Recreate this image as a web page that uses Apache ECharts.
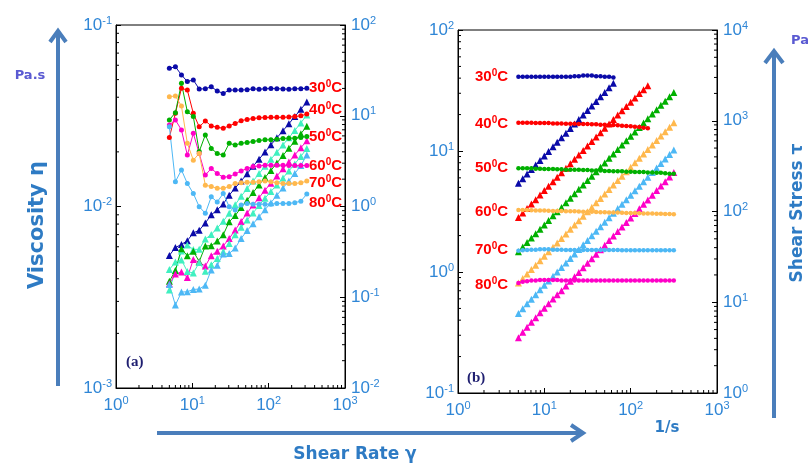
<!DOCTYPE html>
<html><head><meta charset="utf-8">
<script src="https://cdn.jsdelivr.net/npm/echarts@6/dist/echarts.min.js"></script>
<style>html,body{margin:0;padding:0;background:#fff}#c{width:811px;height:464px}</style>
</head><body><div id="c"></div>
<script>
// ---------- data ----------
const temps = ['30', '40', '50', '60', '70', '80'];

// Panel (a): shear rate (1/s)
const rateA = [5,6,7.2,8.6,10.3,12.3,14.8,17.7,21.2,25.4,30.4,36.4,43.6,52.2,62.5,74.8,89.6,107,128,154,184,220,264,316];
// Panel (a): viscosity (Pa.s), left axis
const etaA30 = [0.0577,0.0589,0.0531,0.0488,0.0498,0.0444,0.0445,0.0457,0.0433,0.042,0.0438,0.0438,0.0438,0.044,0.0445,0.0443,0.0445,0.0447,0.0446,0.0444,0.0443,0.0445,0.0446,0.0448];
const etaA40 = [0.024,0.0326,0.0448,0.0438,0.0326,0.0275,0.0296,0.0278,0.0273,0.027,0.0278,0.0287,0.0297,0.0302,0.0305,0.0308,0.0309,0.031,0.031,0.031,0.0311,0.0313,0.0316,0.0323];
const etaA50 = [0.03,0.0329,0.0477,0.0333,0.0313,0.0201,0.0248,0.0209,0.0196,0.0192,0.0223,0.0218,0.0223,0.0225,0.0228,0.0231,0.0233,0.0233,0.0235,0.0237,0.0238,0.0238,0.024,0.0243];
const etaA60 = [0.0281,0.03,0.0264,0.0192,0.0253,0.0196,0.0149,0.0162,0.0152,0.0145,0.0146,0.0151,0.0157,0.0162,0.0166,0.0167,0.0169,0.0169,0.0169,0.0169,0.0168,0.0168,0.0168,0.0168];
const etaA70 = [0.0403,0.0406,0.0358,0.0223,0.018,0.0196,0.0131,0.0129,0.0126,0.0126,0.0129,0.0134,0.0135,0.0136,0.0136,0.0137,0.0138,0.0137,0.0135,0.0134,0.0134,0.0134,0.0135,0.0138];
const etaA80 = [0.0275,0.0137,0.0159,0.0134,0.0118,0.00998,0.00917,0.0113,0.0106,0.0118,0.00998,0.00957,0.0102,0.0104,0.0103,0.0103,0.0103,0.0103,0.0104,0.0104,0.0104,0.0105,0.0107,0.0117];
// Panel (a): shear stress (Pa), right axis
const tauA30 = [0.289,0.353,0.382,0.42,0.513,0.546,0.659,0.809,0.918,1.067,1.332,1.594,1.91,2.297,2.781,3.314,3.987,4.783,5.709,6.838,8.151,9.79,11.77,14.16];
const tauA40 = [0.12,0.196,0.323,0.377,0.336,0.338,0.438,0.492,0.579,0.686,0.845,1.045,1.295,1.576,1.906,2.304,2.769,3.317,3.968,4.774,5.722,6.886,8.342,10.21];
const tauA50 = [0.15,0.197,0.343,0.286,0.322,0.247,0.367,0.37,0.416,0.488,0.678,0.794,0.972,1.175,1.425,1.728,2.088,2.493,3.008,3.65,4.379,5.236,6.336,7.679];
const tauA60 = [0.141,0.18,0.19,0.165,0.261,0.241,0.221,0.287,0.322,0.368,0.444,0.55,0.685,0.846,1.038,1.249,1.514,1.808,2.163,2.603,3.091,3.696,4.435,5.309];
const tauA70 = [0.202,0.244,0.258,0.192,0.185,0.241,0.194,0.228,0.267,0.32,0.392,0.488,0.589,0.71,0.85,1.025,1.236,1.466,1.728,2.064,2.466,2.948,3.564,4.361];
const tauA80 = [0.138,0.082,0.114,0.115,0.122,0.123,0.136,0.2,0.225,0.3,0.303,0.348,0.445,0.543,0.644,0.77,0.923,1.102,1.331,1.602,1.914,2.31,2.825,3.697];

// Panel (b): shear rate (1/s)
const rateB = [5.01,5.62,6.31,7.08,7.94,8.91,10,11.2,12.6,14.1,15.8,17.8,20,22.4,25.1,28.2,31.6,35.5,39.8,44.7,50.1,56.2,63.1,70.8,79.4,89.1,100,112,126,141,158,178,200,224,251,282,316];
// Panel (b): viscosity, left axis
const visB30 = [41,41,41,41,41,41,41,41,41,41,41,41,41,41.5,41.5,42,42,42,41.5,41.5,41,41,40.5];
const visB40 = [17.1,17.1,17.1,17.1,17.0,17.0,17.0,17.0,16.9,16.9,16.9,16.8,16.8,16.8,16.7,16.7,16.7,16.6,16.6,16.5,16.5,16.4,16.4,16.3,16.2,16.1,16.0,15.9,15.8,15.6,15.4];
const visB50 = [7.2,7.2,7.2,7.2,7.15,7.15,7.1,7.1,7.1,7.05,7.05,7.0,7.0,7.0,7.0,6.95,6.95,6.9,6.9,6.9,6.85,6.85,6.8,6.8,6.8,6.75,6.75,6.7,6.7,6.7,6.65,6.65,6.6,6.6,6.55,6.5,6.5];
const visB60 = [3.25,3.25,3.25,3.24,3.23,3.22,3.22,3.21,3.2,3.2,3.19,3.18,3.18,3.17,3.16,3.15,3.15,3.14,3.13,3.12,3.12,3.11,3.1,3.1,3.09,3.08,3.07,3.07,3.06,3.05,3.05,3.04,3.03,3.03,3.02,3.01,3.0];
const visB70 = [1.5,1.51,1.52,1.53,1.53,1.54,1.54,1.54,1.53,1.53,1.53,1.52,1.52,1.52,1.52,1.52,1.52,1.52,1.52,1.52,1.52,1.52,1.52,1.52,1.51,1.51,1.51,1.51,1.51,1.51,1.51,1.51,1.51,1.51,1.51,1.51,1.51];
const visB80 = [0.81,0.83,0.84,0.85,0.85,0.86,0.86,0.86,0.86,0.86,0.85,0.85,0.85,0.85,0.85,0.85,0.85,0.85,0.85,0.85,0.85,0.85,0.85,0.85,0.85,0.85,0.85,0.85,0.85,0.85,0.85,0.85,0.85,0.85,0.85,0.85,0.85];
// Panel (b): shear stress, right axis
const tauB30 = [205,230,259,290,326,365,410,459,517,578,648,730,820,918,1029,1156,1296,1456,1632,1833,2054,2304,2587];
const tauB40 = [86,96,108,121,135,152,170,190,213,238,267,299,336,376,419,471,528,589,661,738,827,922,1035,1154,1286,1435,1600,1781,1991,2200,2433];
const tauB50 = [36,40.5,45.4,51,56.8,63.7,71,79.5,89.5,99.4,111,125,140,157,176,196,220,245,275,308,343,385,429,481,540,601,675,750,844,945,1051,1184,1320,1478,1644,1833,2054];
const tauB60 = [16.3,18.3,20.5,22.9,25.6,28.7,32.2,36,40.3,45.1,50.4,56.6,63.6,71,79.3,88.8,99.5,111.5,124.6,139.5,156.3,174.8,195.6,219.5,245.3,274.4,307,343.8,385.6,430,481.9,541.1,606,678.7,758,848.8,948];
const tauB70 = [7.5,8.5,9.6,10.8,12.1,13.7,15.4,17.2,19.3,21.6,24.2,27.1,30.4,34,38.2,42.9,48,54,60.5,67.9,76.2,85.4,95.9,107.6,119.9,134.5,151,169.1,190.3,212.9,238.6,268.8,302,338.2,379,425.8,477.2];
const tauB80 = [4.06,4.66,5.3,6.02,6.75,7.66,8.6,9.63,10.84,12.13,13.43,15.13,17,19.04,21.34,23.97,26.86,30.18,33.83,38,42.59,47.77,53.64,60.18,67.49,75.74,85,95.2,107.1,119.9,134.3,151.3,170,190.4,213.4,239.7,268.6];

// tick label exponents
const xTickExp = ['0', '1', '2', '3'];
const yTickExpAL = ['-3', '-2', '-1'];
const yTickExpAR = ['-2', '-1', '0', '1', '2'];
const yTickExpBL = ['-1', '0', '1', '2'];
const yTickExpBR = ['0', '1', '2', '3', '4'];

// ---------- styling ----------
const NAVY = '#0a0aa8', RED = '#ff0000', GREEN = '#00b000', MAG = '#ff00c8', ORANGE = '#ffb84d', LBLUE = '#4db8f5', AQUA = '#3ff0c0';
const circColA = [NAVY, RED, GREEN, MAG, ORANGE, LBLUE];
const triColA  = [NAVY, AQUA, GREEN, MAG, AQUA, LBLUE];
const colB     = [NAVY, RED, GREEN, ORANGE, LBLUE, MAG];
const tickColor = '#2f86d6';
const arrowColor = '#4a7ebb';

const etaA = [etaA30, etaA40, etaA50, etaA60, etaA70, etaA80];
const tauA = [tauA30, tauA40, tauA50, tauA60, tauA70, tauA80];
const visB = [visB30, visB40, visB50, visB60, visB70, visB80];
const tauB = [tauB30, tauB40, tauB50, tauB60, tauB70, tauB80];

const zip = (xs, ys) => ys.map((v, i) => [xs[i], v]);

const supRich = {
  n: {fontSize: 17, fontFamily: 'Liberation Sans', color: tickColor, lineHeight: 20},
  s: {fontSize: 11, fontFamily: 'Liberation Sans', color: tickColor, lineHeight: 11, verticalAlign: 'top'}
};
function expFmt(list) {
  return function (v) {
    const e = String(Math.round(Math.log10(v)));
    return list.indexOf(e) >= 0 ? '{n|10}{s|' + e + '}' : '';
  };
}
function logAxis(extra) {
  return Object.assign({
    type: 'log', logBase: 10,
    axisLine: {show: true, lineStyle: {color: '#000', width: 1}},
    axisTick: {show: true, inside: true, length: 5, lineStyle: {color: '#000'}},
    splitLine: {show: false},
    axisLabel: {rich: supRich, color: tickColor}
  }, extra);
}

const series = [];
for (let i = 0; i < 6; i++) {
  series.push({type: 'line', xAxisIndex: 0, yAxisIndex: 1, data: zip(rateA, tauA[i]),
    symbol: 'triangle', symbolSize: 7, color: triColA[i], lineStyle: {width: 1}, z: 3});
}
for (let i = 0; i < 6; i++) {
  series.push({type: 'line', xAxisIndex: 0, yAxisIndex: 0, data: zip(rateA, etaA[i]),
    symbol: 'circle', symbolSize: 5, color: circColA[i], lineStyle: {width: 1}, z: 4});
}
for (let i = 0; i < 6; i++) {
  series.push({type: 'line', xAxisIndex: 1, yAxisIndex: 3, data: zip(rateB, tauB[i]),
    symbol: 'triangle', symbolSize: 7, color: colB[i], lineStyle: {width: 1}, z: 3});
}
for (let i = 0; i < 6; i++) {
  series.push({type: 'line', xAxisIndex: 1, yAxisIndex: 2, data: zip(rateB, visB[i]),
    symbol: 'circle', symbolSize: 4.5, color: colB[i], lineStyle: {width: 1.5}, z: 4});
}

// minor ticks (2..9 x 10^n) drawn through the axes' scales
function minorVals(e0, e1) {
  const out = [];
  for (let e = e0; e < e1; e++) for (let m = 2; m <= 9; m++) out.push(m * Math.pow(10, e));
  return out;
}
function minorSeries(xi, yi, vals, mk, dx, dy) {
  return {
    type: 'custom', xAxisIndex: xi, yAxisIndex: yi, silent: true, clip: false, z: 10,
    data: vals.map(mk),
    renderItem: function (p, api) {
      const pt = api.coord([api.value(0), api.value(1)]);
      return {type: 'line', shape: {x1: pt[0], y1: pt[1], x2: pt[0] + dx, y2: pt[1] + dy},
        style: {stroke: '#000', lineWidth: 1}};
    }
  };
}
series.push(minorSeries(0, 0, minorVals(0, 3), v => [v, 0.001], 0, -3));
series.push(minorSeries(0, 0, minorVals(-3, -1), v => [1, v], 3, 0));
series.push(minorSeries(0, 1, minorVals(-2, 2), v => [1000, v], -3, 0));
series.push(minorSeries(1, 2, minorVals(0, 3), v => [v, 0.1], 0, -3));
series.push(minorSeries(1, 2, minorVals(-1, 2), v => [1, v], 3, 0));
series.push(minorSeries(1, 3, minorVals(0, 4), v => [1000, v], -3, 0));

// temperature labels
const labRich = {
  n: {fontSize: 15, fontWeight: 'bold', fontFamily: 'Liberation Sans', fill: RED, lineHeight: 18},
  s: {fontSize: 10, fontWeight: 'bold', fontFamily: 'Liberation Sans', fill: RED, lineHeight: 10, verticalAlign: 'top'}
};
const labYA = [88, 110, 137, 166, 183, 203];
const labYB = [77, 124, 168, 212, 250, 285];
const graphics = [];
temps.forEach((t, i) => {
  graphics.push({type: 'text', x: 309, y: labYA[i], z: 20,
    style: {text: '{n|' + t + '}{s|0}{n|C}', rich: labRich, fill: RED, verticalAlign: 'middle'}});
  graphics.push({type: 'text', x: 475, y: labYB[i], z: 20,
    style: {text: '{n|' + t + '}{s|0}{n|C}', rich: labRich, fill: RED, verticalAlign: 'middle'}});
});
// panel tags
graphics.push({type: 'text', x: 126, y: 362, style: {text: '(a)', font: 'bold 15px "Liberation Serif"', fill: '#1e1e70', verticalAlign: 'middle'}});
graphics.push({type: 'text', x: 467, y: 378, style: {text: '(b)', font: 'bold 15px "Liberation Serif"', fill: '#1e1e70', verticalAlign: 'middle'}});
// arrows
const arrowStyle = {stroke: arrowColor, lineWidth: 4, fill: null, lineCap: 'butt'};
graphics.push({type: 'line', shape: {x1: 58, y1: 386, x2: 58, y2: 32}, style: arrowStyle});
graphics.push({type: 'polyline', shape: {points: [[50, 42], [58, 31], [66, 42]]}, style: arrowStyle});
graphics.push({type: 'line', shape: {x1: 774, y1: 418, x2: 774, y2: 52}, style: arrowStyle});
graphics.push({type: 'polyline', shape: {points: [[765, 63], [774, 51], [783, 63]]}, style: arrowStyle});
graphics.push({type: 'line', shape: {x1: 157, y1: 433, x2: 582, y2: 433}, style: arrowStyle});
graphics.push({type: 'polyline', shape: {points: [[571, 425], [583, 433], [571, 441]]}, style: arrowStyle});
// axis titles
const titleBlue = '#2e7bc4';
graphics.push({type: 'text', x: 30, y: 76, style: {text: 'Pa.s', font: 'bold 13px "DejaVu Sans"', fill: '#5a5ad2', align: 'center', verticalAlign: 'middle'}});
graphics.push({type: 'text', x: 800, y: 41, style: {text: 'Pa', font: 'bold 13px "DejaVu Sans"', fill: '#5a5ad2', align: 'center', verticalAlign: 'middle'}});
graphics.push({type: 'text', x: 38, y: 225, rotation: Math.PI / 2, style: {text: 'Viscosity \u03b7', font: 'bold 21px "DejaVu Sans"', fill: titleBlue, align: 'center', verticalAlign: 'middle'}});
graphics.push({type: 'text', x: 798, y: 213, rotation: Math.PI / 2, style: {text: 'Shear Stress \u03c4', font: 'bold 17px "DejaVu Sans"', fill: titleBlue, align: 'center', verticalAlign: 'middle'}});
graphics.push({type: 'text', x: 355, y: 455, style: {text: 'Shear Rate \u03b3', font: 'bold 17px "DejaVu Sans"', fill: titleBlue, align: 'center', verticalAlign: 'middle'}});
graphics.push({type: 'text', x: 667, y: 428, style: {text: '1/s', font: 'bold 15px "DejaVu Sans"', fill: titleBlue, align: 'center', verticalAlign: 'middle'}});

const option = {
  animation: false,
  backgroundColor: '#fff',
  grid: [
    {left: 116, top: 25, width: 229, height: 363, show: true, borderColor: '#000', borderWidth: 1, backgroundColor: 'transparent'},
    {left: 458, top: 30, width: 259, height: 363, show: true, borderColor: '#000', borderWidth: 1, backgroundColor: 'transparent'}
  ],
  xAxis: [
    logAxis({gridIndex: 0, min: 1, max: 1000, axisLabel: {rich: supRich, formatter: expFmt(xTickExp), margin: 7}}),
    logAxis({gridIndex: 1, min: 1, max: 1000, axisLabel: {rich: supRich, formatter: expFmt(xTickExp), margin: 7}})
  ],
  yAxis: [
    logAxis({gridIndex: 0, position: 'left', min: 0.001, max: 0.1, axisLabel: {rich: supRich, formatter: expFmt(yTickExpAL), margin: 4}}),
    logAxis({gridIndex: 0, position: 'right', min: 0.01, max: 100, axisLabel: {rich: supRich, formatter: expFmt(yTickExpAR), margin: 6}}),
    logAxis({gridIndex: 1, position: 'left', min: 0.1, max: 100, axisLabel: {rich: supRich, formatter: expFmt(yTickExpBL), margin: 4}}),
    logAxis({gridIndex: 1, position: 'right', min: 1, max: 10000, axisLabel: {rich: supRich, formatter: expFmt(yTickExpBR), margin: 6}})
  ],
  series: series,
  graphic: graphics
};
const chart = echarts.init(document.getElementById('c'), null, {renderer: 'canvas'});
chart.setOption(option);
</script></body></html>
